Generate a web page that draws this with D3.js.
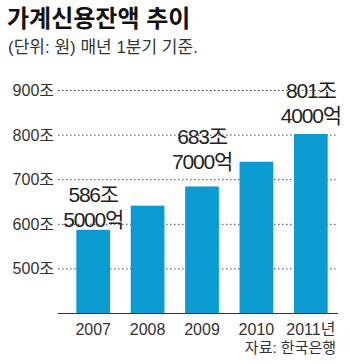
<!DOCTYPE html>
<html lang="ko">
<head>
    <meta charset="UTF-8">
    <script src="https://cdn.jsdelivr.net/npm/d3@7"></script>
    <style>
        body{ margin:0; background:#fff; }
        svg text{
            font-family:"Liberation Sans","Noto Sans CJK KR",sans-serif;
            fill:#222;
        }
        .title{ font-family:"Noto Sans CJK KR",sans-serif; font-weight:bold; font-size:24px; fill:#111; }
        .sub{ font-size:17px; fill:#333; }
        .tick{ font-size:16px; fill:#333; }
        .val{ font-size:21px; fill:#222; text-anchor:middle; letter-spacing:-1.2px; }
    </style>
    <title>가계신용잔액 추이</title>
</head>
<body>
    <script>
        var years = ["2007","2008","2009","2010","2011년"];
        var values = [586.5, 640.6, 683.7, 739.2, 801.4];
        var ticks = [500, 600, 700, 800, 900];
        var labelRows = [["586조","5000억"], null, ["683조","7000억"], null, ["801조","4000억"]];

        var width = 350, height = 364;
        var plotLeft = 58, plotRight = 338, plotTop = 90, plotBottom = 313;

        var svg = d3.select("body")
            .append("svg")
            .attr("width",width)
            .attr("height",height);

        svg.append("text")
            .attr("class","title")
            .attr("x",7)
            .attr("y",27)
            .text("가계신용잔액 추이");
        svg.append("text")
            .attr("class","sub")
            .attr("x",8)
            .attr("y",53)
            .text("(단위: 원) 매년 1분기 기준.");

        var y = d3.scaleLinear()
            .domain([400,900])
            .range([plotBottom, plotTop]);
        var x = d3.scaleBand()
            .domain(years)
            .range([plotLeft+2, plotRight+6])
            .paddingInner(0.38)
            .paddingOuter(0.3);

        // dotted grid
        svg.selectAll("line.grid")
            .data(ticks)
            .enter()
            .append("line")
            .attr("x1",plotLeft)
            .attr("x2",plotRight)
            .attr("y1",function(d){ return y(d)+0.5; })
            .attr("y2",function(d){ return y(d)+0.5; })
            .attr("stroke","#444")
            .attr("stroke-width",1)
            .attr("stroke-dasharray","1.5,2.5");

        svg.selectAll("text.tick")
            .data(ticks)
            .enter()
            .append("text")
            .attr("class","tick")
            .attr("x",54)
            .attr("y",function(d){ return y(d)+6; })
            .attr("text-anchor","end")
            .text(function(d){ return d+"조"; });

        svg.selectAll("rect")
            .data(values)
            .enter()
            .append("rect")
            .attr("x",function(d,i){ return x(years[i]); })
            .attr("y",function(d){ return y(d); })
            .attr("width",x.bandwidth())
            .attr("height",function(d){ return plotBottom - y(d); })
            .attr("fill","#0a9bd0");

        svg.append("line")
            .attr("x1",plotLeft)
            .attr("x2",plotRight)
            .attr("y1",plotBottom+0.5)
            .attr("y2",plotBottom+0.5)
            .attr("stroke","#333")
            .attr("stroke-width",1);

        svg.selectAll("text.year")
            .data(years)
            .enter()
            .append("text")
            .attr("class","tick")
            .attr("x",function(d){ return x(d)+x.bandwidth()/2; })
            .attr("y",335)
            .attr("text-anchor","middle")
            .text(function(d){ return d; });

        svg.append("text")
            .attr("class","sub")
            .attr("x",336)
            .attr("y",353)
            .attr("text-anchor","end")
            .style("font-size","15px")
            .text("자료: 한국은행");

        // value callouts, lifted by hand as in the print graphic
        var lift = [3, 0, 17, 0, 11];
        labelRows.forEach(function(rows,i){
            if(!rows) return;
            var cx = x(years[i]) + x.bandwidth()/2;
            var base = y(values[i]) - lift[i];
            svg.append("text").attr("class","val")
                .attr("x",cx).attr("y",base-25).text(rows[0]);
            svg.append("text").attr("class","val")
                .attr("x",cx).attr("y",base).text(rows[1]);
        });
    </script>
</body>
</html>
